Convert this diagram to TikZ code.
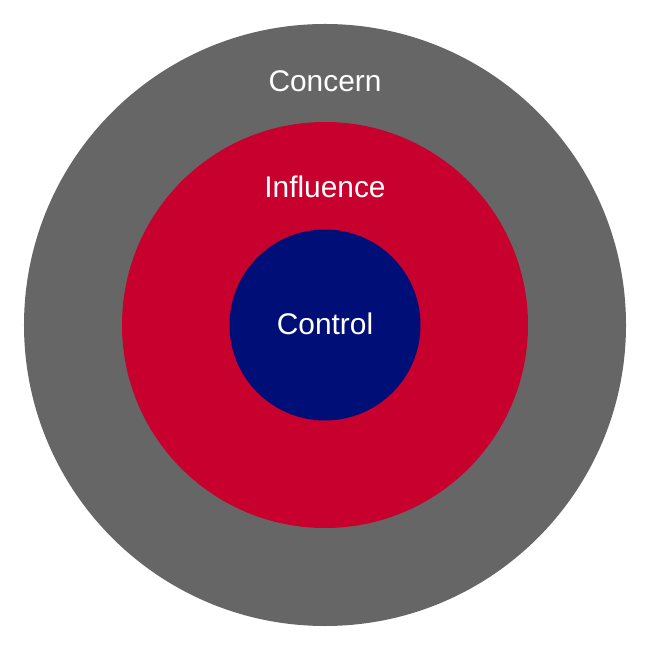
\documentclass[tikz,border=0pt]{standalone}
\usepackage{fontspec}
\setmainfont{Liberation Sans}
\usepackage{tikz}
\usetikzlibrary{positioning}
\definecolor{concern}{HTML}{666666}
\definecolor{influence}{HTML}{C8002E}
\definecolor{control}{HTML}{000E78}

\begin{document}
\begin{tikzpicture}[
      zone/.style={circle, draw=none, inner sep=0pt},
      lbl/.style={text=white, anchor=base, inner sep=0pt,
      font=\fontsize{17}{20}\selectfont},
    ]
    \useasboundingbox (-6.5,-6.5) rectangle (6.5,6.5);
    \node[zone, fill=concern, minimum size=12.04cm] (c1) at (0,0) {};
    \node[zone, fill=influence, minimum size=8.12cm] (c2) at (0,0) {};
    \node[zone, fill=control, minimum size=3.82cm] (c3) at (0,0) {};

    % Labels
    \node[lbl] (l1) at (0, 4.66) {Concern};
    \node[lbl] (l2) at (0, 2.54) {Influence};
    \node[lbl] (l3) at (0, -0.2) {Control};
  \end{tikzpicture}
\end{document}
